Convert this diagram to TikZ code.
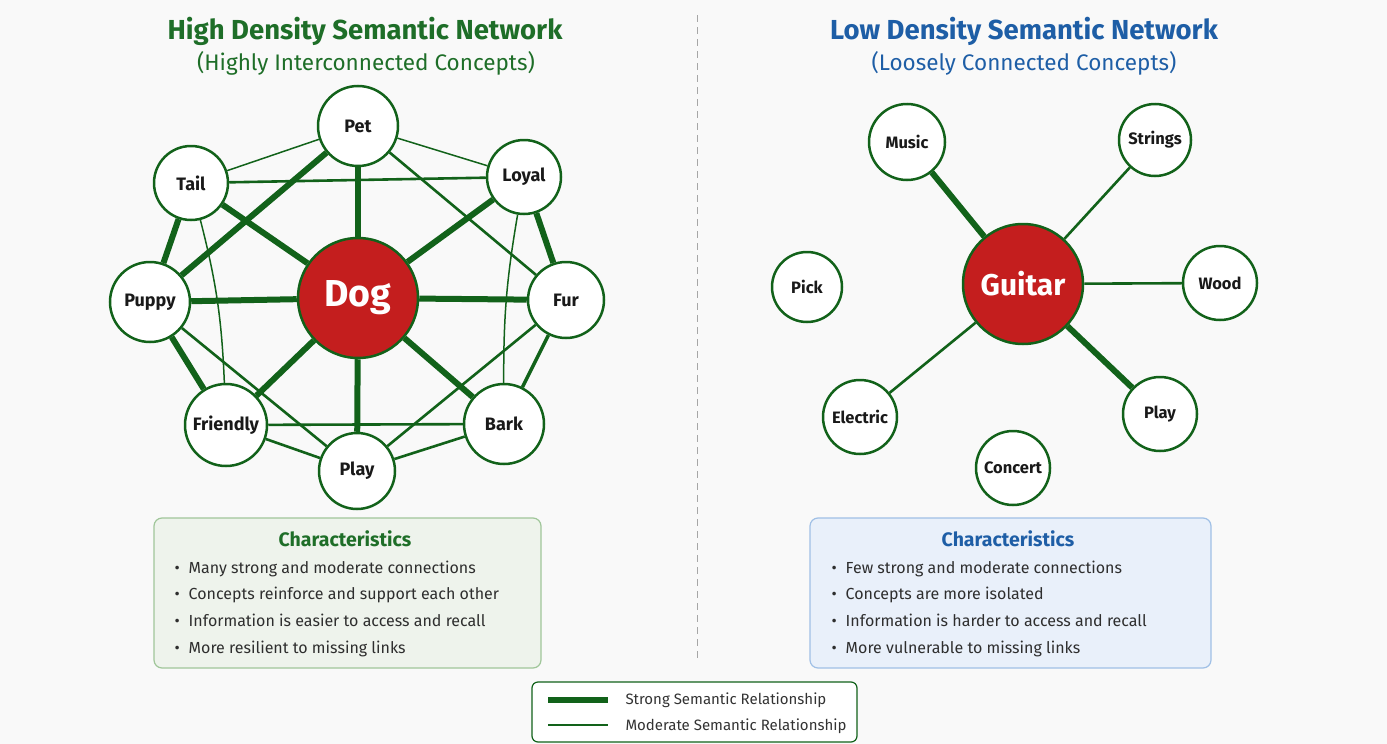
\documentclass[tikz,border=0pt]{standalone}
\usepackage{fontspec}
\setmainfont{Fira Sans}
\begin{document}
\begin{tikzpicture}[x=1pt,y=-1pt,
	concept/.style={circle,draw=greenEdge,line width=2.5pt,fill=white,inner sep=0pt,
		minimum size=#1,font=\fontsize{18}{21}\selectfont\bfseries,text=black!90},
	looseconcept/.style={concept=#1,font=\fontsize{16.5}{19}\selectfont\bfseries},
	hub/.style={circle,draw=greenEdge,line width=2.5pt,fill=redHub,text=white,inner sep=0pt,
		minimum size=120pt},
	strong/.style={greenEdge,line width=6pt},
	moderate/.style={greenEdge,line width=2.6pt},
	light/.style={greenEdge,line width=1.5pt},
	heading/.style={font=\fontsize{27.5}{32}\selectfont\bfseries},
	subheading/.style={font=\fontsize{22.5}{26}\selectfont},
	panel/.style={draw,rounded corners=8pt,line width=1.2pt,inner sep=0pt},
	panelhead/.style={font=\fontsize{19.5}{23}\selectfont\bfseries},
	item/.style={anchor=base west,font=\fontsize{16}{19}\selectfont,text=black!82},
	legendtext/.style={anchor=west,font=\fontsize{15}{18}\selectfont,text=black!80}
	]

		\definecolor{greenEdge}{RGB}{18,98,26}
		\definecolor{greenTitle}{RGB}{30,110,40}
		\definecolor{blueTitle}{RGB}{30,94,166}
		\definecolor{redHub}{RGB}{196,30,30}
		\definecolor{pageBg}{RGB}{249,249,249}
		\definecolor{greenPanel}{RGB}{238,243,236}
		\definecolor{greenPanelLine}{RGB}{160,198,154}
		\definecolor{bluePanel}{RGB}{233,240,250}
		\definecolor{bluePanelLine}{RGB}{160,192,230}

		%\draw[step=50,gray,very thin] (0,0) grid (1387,744);
		\useasboundingbox (0,0) rectangle (1387,744);
		\fill[pageBg] (0,0) rectangle (1387,744);

		% titles
		\node[heading,text=greenTitle] (denseTitle) at (365,31) {High Density Semantic Network};
		\node[subheading,text=greenTitle] (denseSub) at (366,63) {(Highly Interconnected Concepts)};
		\node[heading,text=blueTitle] (looseTitle) at (1024,31) {Low Density Semantic Network};
		\node[subheading,text=blueTitle] (looseSub) at (1024,63) {(Loosely Connected Concepts)};

		\draw[gray!70,line width=1pt,dash pattern=on 7pt off 5pt] (697,15) -- (697,662);

		% dense network
		\node[concept=80pt] (pet) at (358,126) {Pet};
		\node[concept=74pt] (tail) at (191,183) {Tail};
		\node[concept=74pt] (loyal) at (524,177) {Loyal};
		\node[concept=80pt] (puppy) at (150,302) {Puppy};
		\node[hub,font=\fontsize{37.5}{42}\selectfont\bfseries] (dog) at (358,298) {Dog};
		\node[concept=76pt] (fur) at (566,300) {Fur};
		\node[concept=82pt] (friendly) at (226,425) {Friendly};
		\node[concept=80pt] (bark) at (504,424) {Bark};
		\node[concept=76pt] (play) at (357,471) {Play};

		\foreach \n in {pet,tail,loyal,puppy,fur,friendly,bark,play}
			\draw[strong] (dog) -- (\n);
		\draw[strong] (pet) -- (puppy);
		\draw[strong] (tail) -- (puppy);
		\draw[strong] (loyal) -- (fur);
		\draw[strong] (puppy) -- (friendly);
		\draw[moderate,line width=3.5pt] (fur) -- (bark);
		\draw[moderate] (pet) -- (fur);
		\draw[moderate] (puppy) -- (play);
		\draw[moderate] (fur) -- (play);
		\draw[moderate] (friendly) -- (play);
		\draw[moderate] (play) -- (bark);
		\draw[moderate] (tail) -- (loyal);
		\draw[moderate] (friendly) -- (bark);
		\draw[light] (pet) -- (tail);
		\draw[light] (pet) -- (loyal);
		\draw[light] (tail) to[bend left=6] (friendly);
		\draw[light] (loyal) to[bend right=5] (bark);

		% loose network
		\node[looseconcept=76pt] (music) at (907,142) {Music};
		\node[looseconcept=72pt] (strings) at (1155,140) {Strings};
		\node[looseconcept=70pt] (pick) at (807,287) {Pick};
		\node[hub,font=\fontsize{30}{34}\selectfont\bfseries] (guitar) at (1023,284) {Guitar};
		\node[looseconcept=74pt] (wood) at (1220,283) {Wood};
		\node[looseconcept=74pt] (electric) at (860,417) {Electric};
		\node[looseconcept=74pt] (playG) at (1160,414) {Play};
		\node[looseconcept=74pt] (concert) at (1013,468) {Concert};

		\draw[strong] (guitar) -- (music);
		\draw[strong] (guitar) -- (playG);
		\draw[moderate] (guitar) -- (strings);
		\draw[moderate] (guitar) -- (wood);
		\draw[moderate] (guitar) -- (electric);

		% characteristics panels
		\node[panel,draw=greenPanelLine,fill=greenPanel,minimum width=387pt,minimum height=150pt] (densePanel) at (347.5,593) {};
		\node[panelhead,text=greenTitle] (denseHead) at (345,539) {Characteristics};
		\node[item] (d1) at (171,573) {•\hspace{9pt}Many strong and moderate connections};
		\node[item] (d2) at (171,599) {•\hspace{9pt}Concepts reinforce and support each other};
		\node[item] (d3) at (171,626) {•\hspace{9pt}Information is easier to access and recall};
		\node[item] (d4) at (171,653) {•\hspace{9pt}More resilient to missing links};

		\node[panel,draw=bluePanelLine,fill=bluePanel,minimum width=401pt,minimum height=150pt] (loosePanel) at (1010.5,593) {};
		\node[panelhead,text=blueTitle] (looseHead) at (1008,539) {Characteristics};
		\node[item] (l1) at (828,573) {•\hspace{9pt}Few strong and moderate connections};
		\node[item] (l2) at (828,599) {•\hspace{9pt}Concepts are more isolated};
		\node[item] (l3) at (828,626) {•\hspace{9pt}Information is harder to access and recall};
		\node[item] (l4) at (828,653) {•\hspace{9pt}More vulnerable to missing links};

		% legend
		\node[panel,draw=greenEdge,fill=white,rounded corners=6pt,minimum width=325pt,minimum height=60pt] (legend) at (694.5,712) {};
		\draw[strong] (548,700) -- (608,700);
		\draw[moderate] (548,725) -- (608,725);
		\node[legendtext] (strongKey) at (622,700) {Strong Semantic Relationship};
		\node[legendtext] (moderateKey) at (622,726) {Moderate Semantic Relationship};

\end{tikzpicture}
\end{document}
